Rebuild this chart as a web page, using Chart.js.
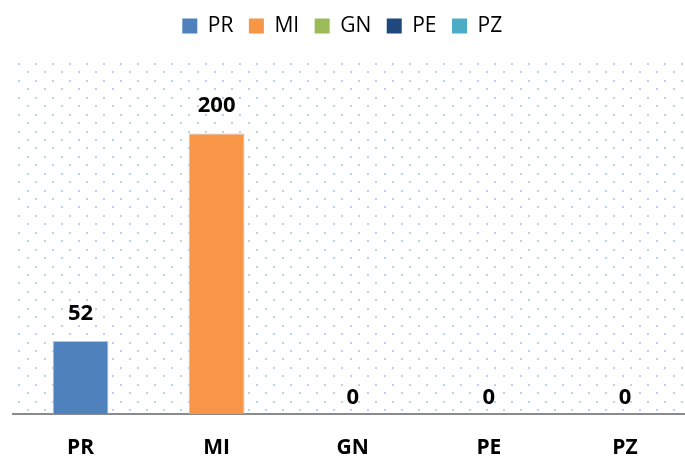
<!DOCTYPE html>
<html>
<head>
<meta charset="utf-8">
<script src="https://cdn.jsdelivr.net/npm/chart.js@4.4.1/dist/chart.umd.min.js"></script>
<style>
  html, body { margin: 0; padding: 0; background: #fff; overflow: hidden; }
  #wrap { position: relative; width: 693px; height: 460px; }
</style>
</head>
<body>
<div id="wrap"><canvas id="chart"></canvas></div>
<script>
const categories = ["PR", "MI", "GN", "PE", "PZ"];
const values = [52, 200, 0, 0, 0];
const colors = ["#4f81bd", "#f79646", "#9bbb59", "#1f497d", "#4bacc6"];
const yMax = 250;

const FONT = "'Open Sans', 'Noto Sans', sans-serif";

// dotted background inside the plot area
const dotsPlugin = {
  id: "dots",
  beforeDatasetsDraw(chart) {
    const { ctx, chartArea } = chart;
    ctx.save();
    ctx.fillStyle = "#b9d3f1";
    let row = 0;
    for (let y = chartArea.top + 0.5; y < chartArea.bottom - 1; y += 8.44, row++) {
      const start = row % 2 === 0 ? 19 : 27.5;
      for (let x = start; x < chartArea.right; x += 17) {
        if (x < chartArea.left) continue;
        ctx.fillRect(Math.round(x) - 1, Math.round(y) - 1, 2, 2);
      }
    }
    ctx.restore();
  }
};

// value labels above bars
const valueLabels = {
  id: "valueLabels",
  afterDatasetsDraw(chart) {
    const { ctx } = chart;
    const meta = chart.getDatasetMeta(0);
    ctx.save();
    ctx.font = "bold 22px " + FONT;
    ctx.fillStyle = "#000";
    ctx.textAlign = "center";
    ctx.textBaseline = "middle";
    meta.data.forEach((bar, i) => {
      const v = values[i];
      ctx.fillText(String(v), bar.x, bar.y - (v > 0 ? 27.5 : 16));
    });
    ctx.restore();
  }
};

// extra room under the legend, and shift it to the page centre
const legendTweak = {
  id: "legendTweak",
  beforeInit(chart) {
    const fit = chart.legend.fit;
    chart.legend.fit = function () {
      fit.bind(chart.legend)();
      this.height += 17;
    };
  },
  afterLayout(chart) {
    chart.legend.left -= 10.5;
    chart.legend.right -= 10.5;
  }
};

new Chart(document.getElementById("chart"), {
  type: "bar",
  data: {
    labels: categories,
    datasets: [{
      data: values,
      backgroundColor: colors,
      borderColor: "#c4c4c4",
      borderWidth: ctx => (values[ctx.dataIndex] > 0 ? 1 : 0),
      categoryPercentage: 1,
      barPercentage: 0.41
    }]
  },
  options: {
    responsive: true,
    maintainAspectRatio: false,
    animation: false,
    layout: { padding: { left: 12.5, right: 0, top: 0, bottom: 0 } },
    plugins: {
      tooltip: { enabled: false },
      legend: {
        position: "top",
        onClick: null,
        labels: {
          boxWidth: 15,
          boxHeight: 15,
          padding: 15.5,
          color: "#000",
          font: { family: FONT, size: 21 },
          generateLabels: () => categories.map((c, i) => ({
            text: c,
            fillStyle: colors[i],
            strokeStyle: colors[i],
            lineWidth: 0,
            hidden: false,
            index: i
          }))
        }
      }
    },
    scales: {
      x: {
        grid: { display: false, drawTicks: false },
        border: { display: true, color: "#8a8a8a", width: 2 },
        ticks: {
          padding: 21,
          color: "#000",
          font: { family: FONT, size: 21, weight: "bold" }
        },
        afterFit(scale) { scale.height = 46; }
      },
      y: {
        display: false,
        min: 0,
        max: yMax
      }
    }
  },
  plugins: [dotsPlugin, valueLabels, legendTweak]
});
</script>
</body>
</html>
